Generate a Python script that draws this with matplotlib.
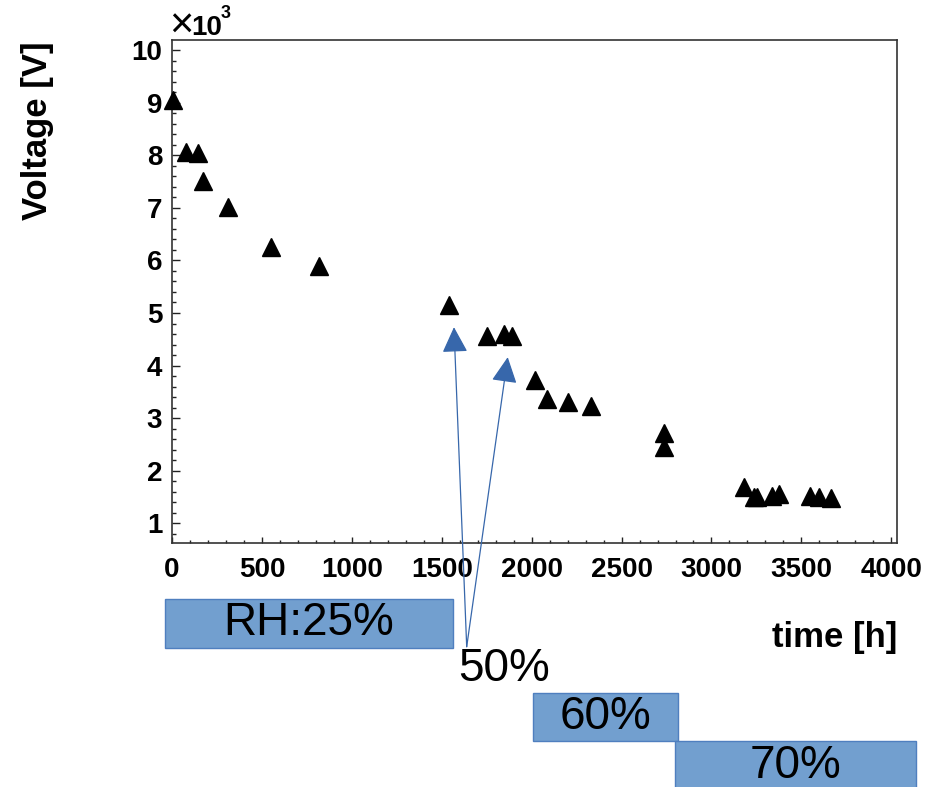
import numpy as np
import matplotlib
matplotlib.use("Agg")
import matplotlib.pyplot as plt
from matplotlib.patches import Rectangle
from matplotlib.ticker import MultipleLocator

plt.rcParams["font.family"] = ["Liberation Sans", "DejaVu Sans"]

# Measured voltage versus elapsed time
time_h = [5, 78, 143, 174, 309, 550, 818, 1541, 1754, 1846, 1893, 2017, 2087,
          2203, 2328, 2735, 2735, 3180, 3235, 3254, 3337, 3378, 3546, 3596, 3667]
voltage_v = [9050, 8070, 8040, 7500, 7020, 6260, 5900, 5150, 4560, 4610, 4560,
             3730, 3370, 3300, 3230, 2710, 2460, 1690, 1500, 1510, 1520, 1550,
             1520, 1510, 1480]

# Humidity step annotations (arrow targets in data units)
arrow_t = [1568, 1867]
arrow_v = [4730, 4160]

x_ticks = [0, 500, 1000, 1500, 2000, 2500, 3000, 3500, 4000]
y_ticks = [1, 2, 3, 4, 5, 6, 7, 8, 9, 10]

W, H = 943, 787
fig = plt.figure(figsize=(W / 100, H / 100), dpi=100)
fig.patch.set_facecolor("white")

left, right, top, bottom = 172, 896.7, 40, 542.7
ax = fig.add_axes([left / W, 1 - bottom / H, (right - left) / W, (bottom - top) / H])

ax.plot(np.array(time_h), np.array(voltage_v) / 1000.0, linestyle="none",
        marker="^", markersize=13, color="black", clip_on=False, zorder=3)

ax.set_xlim(0, 4030)
ax.set_ylim(0.633, 10.19)
ax.set_xticks(x_ticks)
ax.set_yticks(y_ticks)
ax.xaxis.set_minor_locator(MultipleLocator(100))
ax.yaxis.set_minor_locator(MultipleLocator(0.2))
ax.tick_params(axis="both", which="both", direction="in", top=False, right=False,
               labelsize=20, color="#222222")
ax.tick_params(axis="y", which="major", length=6, width=1, pad=7)
ax.tick_params(axis="y", which="minor", length=3, width=1)
ax.tick_params(axis="x", which="major", length=4.5, width=1, pad=10)
ax.tick_params(axis="x", which="minor", length=2.3, width=1)
for lab in ax.get_xticklabels() + ax.get_yticklabels():
    lab.set_fontweight("bold")
for sp in ax.spines.values():
    sp.set_linewidth(1.2)
    sp.set_color("#333333")

# Overlay in pixel units for titles and humidity boxes
ov = fig.add_axes([0, 0, 1, 1], zorder=5)
ov.set_xlim(0, W)
ov.set_ylim(H, 0)
ov.axis("off")
ov.patch.set_alpha(0)

# Axis multiplier
ov.text(169, 38, "\u00d7", fontsize=30, ha="left", va="baseline")
ov.text(191, 35, "10", fontsize=20, fontweight="bold", ha="left", va="baseline")
ov.text(221, 18, "3", fontsize=13, fontweight="bold", ha="left", va="baseline")

ov.text(38, 131, "Voltage [V]", fontsize=25, fontweight="bold", rotation=90,
        ha="center", va="center")
ov.text(897, 638, "time [h]", fontsize=25, fontweight="bold", ha="right", va="center")

box_face = "#729fcf"
box_edge = "#4f7fbf"
boxes = [
    (165, 599, 453, 648, "RH:25%", 309, 623),
    (533, 693, 678, 741, "60%", 606, 717),
    (675, 741, 916, 800, "70%", 796, 766),
]
for x0, y0, x1, y1, label, tx, ty in boxes:
    ov.add_patch(Rectangle((x0, y0), x1 - x0, y1 - y0, facecolor=box_face,
                           edgecolor=box_edge, linewidth=1))
    ov.text(tx, ty, label, fontsize=33, ha="center", va="center", color="black")

ov.text(504, 669, "50%", fontsize=33, ha="center", va="center", color="black")

for t, v in zip(arrow_t, arrow_v):
    ax.annotate("", xy=(t, v / 1000.0), xycoords="data",
                xytext=(466.7, 646.7), textcoords=ov.transData,
                arrowprops=dict(arrowstyle="-|>,head_length=0.8,head_width=0.4",
                                mutation_scale=20, color="#3767ab", lw=0.9,
                                shrinkA=0, shrinkB=0),
                annotation_clip=False, zorder=6)

fig.savefig("out.png", dpi=100)
